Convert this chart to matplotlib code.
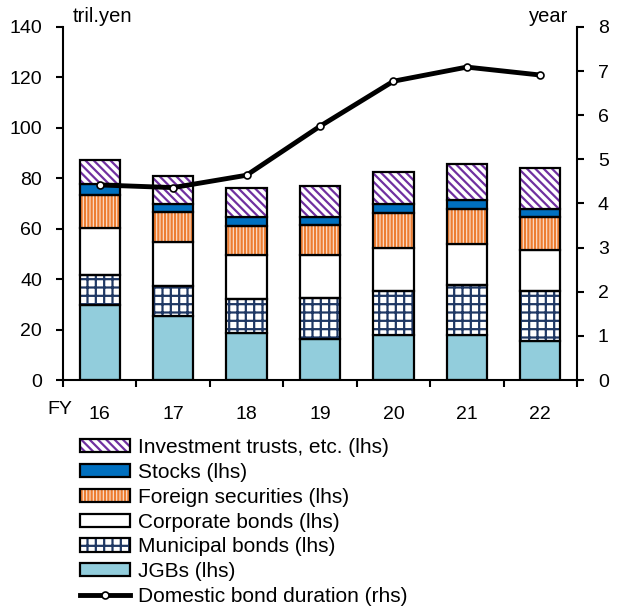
import matplotlib.pyplot as plt
import matplotlib as mpl
from matplotlib.patches import Patch
from matplotlib.lines import Line2D
from matplotlib.legend_handler import HandlerTuple
import numpy as np

mpl.rcParams["font.family"] = ["Liberation Sans", "DejaVu Sans"]
mpl.rcParams["hatch.linewidth"] = 1.6

years = ["16", "17", "18", "19", "20", "21", "22"]

jgbs = [29.8, 25.2, 18.8, 16.2, 17.8, 17.8, 15.6]
municipal = [12.0, 11.9, 13.4, 16.2, 17.7, 20.0, 19.9]
corporate = [18.3, 17.5, 17.5, 17.3, 16.7, 16.0, 16.1]
foreign = [13.2, 12.0, 11.2, 11.8, 14.2, 14.1, 13.2]
stocks = [4.4, 3.0, 3.8, 3.3, 3.2, 3.3, 3.2]
inv_trusts = [9.4, 11.3, 11.4, 12.0, 12.7, 14.3, 15.9]

duration = [4.42, 4.36, 4.64, 5.75, 6.77, 7.09, 6.91]

# name, values, face, hatch colour, hatch
series = [
    ("JGBs (lhs)", jgbs, "#92CDDC", None, None),
    ("Municipal bonds (lhs)", municipal, "white", "#1F3864", "++"),
    ("Corporate bonds (lhs)", corporate, "white", None, None),
    ("Foreign securities (lhs)", foreign, "#FBE3D3", "#ED7D31", "|||||"),
    ("Stocks (lhs)", stocks, "#0070C0", None, None),
    ("Investment trusts, etc. (lhs)", inv_trusts, "white", "#7030A0", "\\\\\\\\"),
]

fig = plt.figure(figsize=(6.2, 6.12), dpi=100)
ax = fig.add_axes([0.1016, 0.379, 0.829, 0.577])

x = np.arange(len(years))
width = 0.55
bottom = np.zeros(len(years))
handles = []
for name, vals, face, hcol, hatch in series:
    vals = np.array(vals)
    if hatch:
        ax.bar(x, vals, width, bottom=bottom, color=face, edgecolor=hcol,
               hatch=hatch, linewidth=0, zorder=2)
        ax.bar(x, vals, width, bottom=bottom, facecolor="none",
               edgecolor="black", linewidth=1.6, zorder=3)
        h = (Patch(facecolor=face, edgecolor=hcol, hatch=hatch, linewidth=0),
             Patch(facecolor="none", edgecolor="black", linewidth=1.6))
    else:
        ax.bar(x, vals, width, bottom=bottom, color=face,
               edgecolor="black", linewidth=1.6, zorder=2)
        h = Patch(facecolor=face, edgecolor="black", linewidth=1.6)
    handles.append((h, name))
    bottom += vals

ax.set_xlim(-0.5, len(years) - 0.5)
ax.set_ylim(0, 140)
ax.set_yticks(range(0, 141, 20))
ax.set_xticks(x)
ax.set_xticklabels(years)
ax.set_xticks(np.arange(-0.5, len(years)), minor=True)
ax.tick_params(axis="x", which="major", length=0, pad=19, labelsize=14)
ax.tick_params(axis="x", which="minor", length=5, width=1.5, direction="out")
ax.tick_params(axis="y", length=5, width=1.5, pad=10, labelsize=14)
ax.spines["top"].set_visible(False)
ax.spines["right"].set_visible(False)
for s in ["left", "bottom"]:
    ax.spines[s].set_linewidth(1.5)

ax2 = ax.twinx()
ax2.plot(x, duration, color="black", lw=3.5, marker="o", markersize=5,
         markerfacecolor="white", markeredgecolor="black", markeredgewidth=1.2,
         zorder=5)
ax2.set_ylim(0, 8)
ax2.set_yticks(range(0, 9))
ax2.tick_params(axis="y", length=5, width=1.5, pad=10, labelsize=14)
ax2.spines["top"].set_visible(False)
ax2.spines["left"].set_visible(False)
ax2.spines["bottom"].set_visible(False)
ax2.spines["right"].set_linewidth(1.5)

fig.text(73 / 620, 1 - 17 / 612, "tril.yen", fontsize=14.5, va="center", ha="left")
fig.text(568 / 620, 1 - 17 / 612, "year", fontsize=14.5, va="center", ha="right")
fig.text(47 / 620, 1 - 410 / 612, "FY", fontsize=14, va="center", ha="left")

line_h = Line2D([], [], color="black", lw=3.5, marker="o", markersize=5,
                markerfacecolor="white", markeredgecolor="black",
                markeredgewidth=1.2)
leg_handles = [h for h, n in handles[::-1]] + [line_h]
leg_labels = [n for h, n in handles[::-1]] + ["Domestic bond duration (rhs)"]
fig.legend(leg_handles, leg_labels, loc="upper left",
           bbox_to_anchor=(80 / 620, 1 - 438 / 612), frameon=False,
           fontsize=15, handlelength=2.4, handleheight=0.6, handletextpad=0.4,
           labelspacing=0.28, borderaxespad=0, borderpad=0,
           handler_map={tuple: HandlerTuple(ndivide=1)})

fig.savefig("out.png", dpi=100)
